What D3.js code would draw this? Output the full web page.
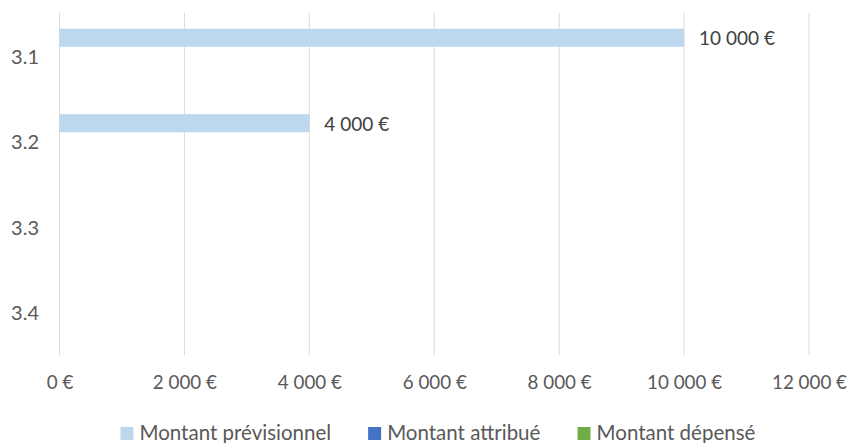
<!DOCTYPE html>
<html>
<head>
<meta charset="utf-8">
<script src="https://cdn.jsdelivr.net/npm/d3@7"></script>
<style>
  html, body { margin: 0; padding: 0; background: #fff; }
  svg { display: block; font-family: Lato, "Open Sans", sans-serif; }
</style>
</head>
<body>
<svg id="chart" width="850" height="443"></svg>
<script>
// Budget lines and amounts per series (euros)
const categories = ["3.1", "3.2", "3.3", "3.4"];
const seriesNames = ["Montant prévisionnel", "Montant attribué", "Montant dépensé"];
const previsionnel = [10000, 4000, null, null];
const attribue = [null, null, null, null];
const depense = [null, null, null, null];
const xTicks = [0, 2000, 4000, 6000, 8000, 10000, 12000];
const seriesColors = ["#BDD7EE", "#4472C4", "#70AD47"];

const seriesValues = [previsionnel, attribue, depense];

const W = 850, H = 443;
const margin = { top: 13, right: 41, bottom: 88, left: 59.5 };
const svg = d3.select("#chart");

const fr = d3.formatLocale({ decimal: ",", thousands: "\u00a0", grouping: [3], currency: ["", "\u00a0€"] });
const fmtEuro = v => fr.format(",.0f")(v) + "\u00a0€";

const x = d3.scaleLinear()
  .domain([0, 12000])
  .range([margin.left, W - margin.right]);

const y = d3.scaleBand()
  .domain(categories)
  .range([margin.top, H - margin.bottom])
  .paddingInner(0.368)
  .paddingOuter(0.184);

const ySub = d3.scaleBand()
  .domain(seriesNames)
  .range([0, y.bandwidth()]);

// Vertical gridlines
svg.append("g")
  .selectAll("line")
  .data(xTicks)
  .join("line")
  .attr("x1", d => x(d)).attr("x2", d => x(d))
  .attr("y1", margin.top).attr("y2", H - margin.bottom)
  .attr("stroke", "#d9d9d9")
  .attr("stroke-width", 1);

// X axis tick labels
const xAxis = d3.axisBottom(x)
  .tickValues(xTicks)
  .tickFormat(fmtEuro)
  .tickSize(0)
  .tickPadding(0);
const gx = svg.append("g")
  .attr("transform", `translate(0, ${H - margin.bottom + 21})`)
  .call(xAxis);
gx.select(".domain").remove();
gx.selectAll("text")
  .attr("font-size", 18.8)
  .attr("fill", "#595959")
  .attr("font-family", "Lato, sans-serif");

// Y axis category labels
const yAxis = d3.axisLeft(y).tickSize(0).tickPadding(0);
const gy = svg.append("g")
  .attr("transform", "translate(39, 0)")
  .call(yAxis);
gy.select(".domain").remove();
gy.selectAll("text")
  .attr("font-size", 20)
  .attr("fill", "#595959")
  .attr("font-family", "Lato, sans-serif")
  .attr("dy", "0.35em")
  .attr("y", 1);

// Bars
const rows = [];
categories.forEach((c, i) => {
  seriesNames.forEach((s, j) => {
    const v = seriesValues[j][i];
    if (v != null) rows.push({ cat: c, series: s, value: v, color: seriesColors[j] });
  });
});

svg.append("g")
  .selectAll("rect")
  .data(rows)
  .join("rect")
  .attr("x", x(0))
  .attr("y", d => y(d.cat) + ySub(d.series))
  .attr("width", d => x(d.value) - x(0))
  .attr("height", ySub.bandwidth())
  .attr("fill", d => d.color);

// Data labels
svg.append("g")
  .selectAll("text")
  .data(rows)
  .join("text")
  .attr("x", d => x(d.value) + 15)
  .attr("y", d => y(d.cat) + ySub(d.series) + ySub.bandwidth() / 2 + 1)
  .attr("dy", "0.35em")
  .attr("font-size", 19)
  .attr("fill", "#404040")
  .attr("font-family", "Lato, sans-serif")
  .text(d => fmtEuro(d.value));

// Legend
const legend = svg.append("g");
const items = legend.selectAll("g")
  .data(seriesNames)
  .join("g");
items.append("rect")
  .attr("width", 13).attr("height", 13)
  .attr("y", -6)
  .attr("fill", (d, i) => seriesColors[i]);
items.append("text")
  .attr("x", 19)
  .attr("dy", "0.35em")
  .attr("font-size", 20.5)
  .attr("fill", "#595959")
  .attr("font-family", "Lato, sans-serif")
  .text(d => d);
const widths = [];
items.each(function () { widths.push(this.getBBox().width); });
const gap = 37;
const total = d3.sum(widths) + gap * (widths.length - 1);
let cx = 438 - total / 2;
items.attr("transform", (d, i) => {
  const t = `translate(${cx}, 433)`;
  cx += widths[i] + gap;
  return t;
});
</script>
</body>
</html>
